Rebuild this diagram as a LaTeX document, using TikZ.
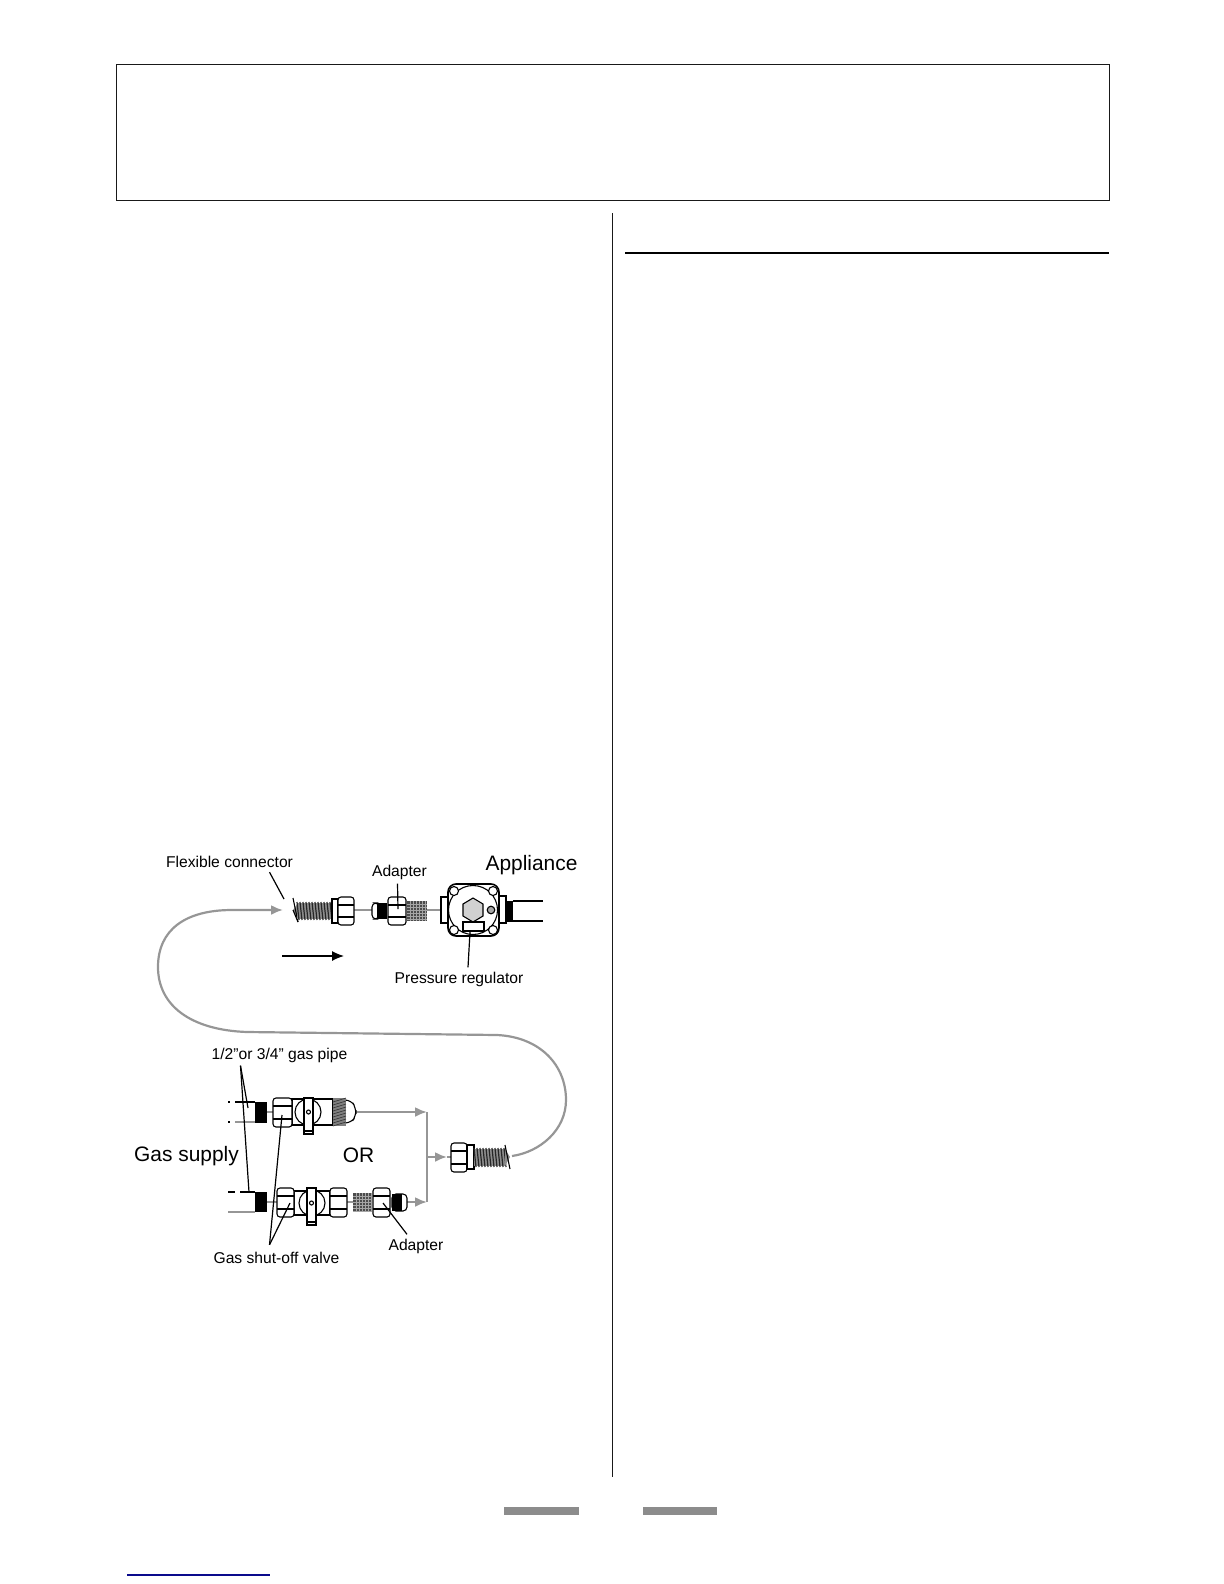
\documentclass[tikz,border=0pt]{standalone}
\usepackage{fontspec}
\usepackage{xcolor}
\usepackage{tikz}
\usetikzlibrary{arrows.meta}
\setmainfont{Liberation Sans}
\definecolor{pipegray}{RGB}{150,150,150}
\definecolor{bargray}{RGB}{140,140,140}
\definecolor{linkblue}{RGB}{10,10,140}
\tikzset{
        smalllabel/.style={inner sep=0pt, font=\fontsize{7.85}{9}\selectfont},
        biglabel/.style={inner sep=0pt, font=\fontsize{10.5}{12}\selectfont},
        leader/.style={black, line width=0.6pt},
        partline/.style={black, line width=0.55pt},
        hose/.style={pipegray, line width=1.1pt},
        hosetip/.style={pipegray, line width=1.1pt, -{Latex[length=6pt,width=5pt]}},
        stub/.style={pipegray, line width=0.7pt},
        pageline/.style={black!90, line width=0.45pt}
}
\newcommand{\drawnut}[4]{
        \draw[partline, fill=white, rounded corners=1.5pt] (#1,#2) rectangle (#3,#4);
        \draw[partline] (#1,#2+8) -- (#3,#2+8);
        \draw[partline] (#1,#4-8) -- (#3,#4-8);
}
\newcommand{\drawcoil}[4]{
        \fill[black!45] (#1,#2) rectangle (#1+#4+2,#3);
        \foreach \t in {0,3,...,#4}
                \draw[black!85, line width=0.6pt] (#1+\t,#2-1) -- (#1+\t+2,#3+1);
}
\newcommand{\drawmesh}[4]{
        \fill[black!70] (#1,#2) rectangle (#3,#4);
        \foreach \t in {3,6,...,18}
                \draw[black!35, line width=0.2pt] (#1+\t,#2) -- (#1+\t,#4);
        \foreach \t in {3,6,...,18}
                \draw[black!35, line width=0.2pt] (#1,#2+\t) -- (#3,#2+\t);
}
\begin{document}
\begin{tikzpicture}[x=0.5bp, y=-0.5bp]
        \useasboundingbox (0,0) rectangle (1224,1584);
        \draw[pageline] (116,64.5) rectangle (1109,200);
        \draw[pageline] (612,213) -- (612,1477);
        \draw[black, line width=1.1pt] (625,253) -- (1109,253);
        \fill[bargray] (504,1507) rectangle (579,1515);
        \fill[bargray] (643,1507) rectangle (717,1515);
        \draw[linkblue, line width=0.6pt] (127,1575) -- (270,1575);

        \node[smalllabel] (flexlabel) at (229.5,862) {Flexible connector};
        \node[smalllabel] (adapterlabel) at (399.5,872) {Adapter};
        \node[biglabel] (appliancelabel) at (531.5,865) {Appliance};
        \node[smalllabel] (regulatorlabel) at (459,979) {Pressure regulator};
        \node[smalllabel] (pipelabel) at (279.5,1055) {1/2”or 3/4” gas pipe};
        \node[biglabel] (supplylabel) at (186.5,1156) {Gas supply};
        \node[biglabel] (orlabel) at (358.5,1155) {OR};
        \node[smalllabel] (adapterlabelb) at (416,1246) {Adapter};
        \node[smalllabel] (valvelabel) at (276.5,1258) {Gas shut-off valve};

        \coordinate (hosetop) at (283,910);
        \coordinate (hosebottom) at (512,1156);
        \coordinate (junctop) at (427,1112);
        \coordinate (juncmid) at (427,1157);
        \coordinate (juncbottom) at (427,1202);
        \draw[hosetip] (hosebottom) .. controls (540,1152) and (566,1130) .. (566,1100) .. controls (566,1065) and (540,1037) .. (497,1035) -- (247,1032) .. controls (190,1030) and (158,1005) .. (158,967) .. controls (158,930) and (185,910) .. (232,910) -- (hosetop);
        \draw[hosetip] (356,1112) -- (junctop);
        \draw[hose] (junctop) -- (juncbottom);
        \draw[hosetip] (407,1202) -- (juncbottom);
        \draw[hosetip] (juncmid) -- (447,1157);
        \draw[hose] (447,1157) -- (451,1157);
        \draw[-{Latex[length=6pt,width=5pt]}, black, line width=0.6pt] (282,956) -- (344,956);

        \draw[stub] (354,910) -- (372,910);
        \draw[stub] (427,910) -- (441,910);
        \fill[black!45] (293,910) -- (298,903) -- (298,920) -- cycle;
        \draw[partline] (293,898) -- (298,922);
        \draw[partline] (293,910) -- (298,922);
        \drawcoil{297}{903}{919}{33}
        \draw[partline, fill=white] (332,899) rectangle (338,923);
        \drawnut{338}{897}{354}{925}

        \draw[partline, fill=white, rounded corners=2pt] (372,903) rectangle (379,919);
        \fill[black] (377,903) rectangle (387,919);
        \drawmesh{407}{901}{427}{921}
        \drawnut{388}{897}{406}{925}

        \draw[partline, fill=white] (441,897) rectangle (448,923);
        \draw[partline, fill=white] (499,896) rectangle (506,923);
        \fill[black] (506,901) rectangle (513,922);
        \draw[partline] (513,901) -- (543,901);
        \draw[partline] (513,921) -- (543,921);
        \draw[black, line width=0.8pt, fill=white, rounded corners=4pt] (448,884) rectangle (499,936);
        \draw[partline] (473,910) circle[radius=24.5];
        \foreach \cx/\cy in {454/891, 493/891, 454/930, 493/930}
                \draw[partline, fill=white] (\cx,\cy) circle[radius=4.5];
        \draw[partline, fill=black!18] (473,898) -- (483,904) -- (483,916) -- (473,922) -- (463,916) -- (463,904) -- cycle;
        \draw[partline, fill=black!35] (491,910) circle[radius=3.8];
        \draw[partline, fill=white] (463,922) rectangle (484,931);

        \draw[partline] (235,1102) -- (255,1102);
        \draw[stub] (235,1122) -- (255,1122);
        \draw[partline] (228,1102) -- (230,1102);
        \draw[partline] (228,1122) -- (230,1122);
        \fill[black] (255,1102) rectangle (267,1123);
        \draw[stub] (267,1112) -- (273,1112);
        \draw[partline, fill=white] (292,1099) rectangle (333,1125);
        \drawnut{273}{1098}{292}{1127}
        \draw[partline] (308,1112) circle[radius=13];
        \draw[partline, fill=white] (304,1098) rectangle (313,1134);
        \draw[partline] (304,1131) -- (313,1131);
        \draw[partline] (308.5,1112) circle[radius=2];
        \draw[partline, fill=white, rounded corners=3pt] (340,1100) -- (351,1100) -- (356,1108) -- (356,1116) -- (351,1123) -- (340,1123);
        \fill[black!50] (333,1098) rectangle (346,1126);
        \foreach \t in {0,3,...,24}
                \draw[black!80, line width=0.3pt] (333,1102+\t) -- (346,1098+\t);

        \draw[partline] (228,1192) -- (235,1192);
        \draw[partline] (240,1192) -- (255,1192);
        \draw[stub] (228,1212) -- (255,1212);
        \fill[black] (255,1192) rectangle (267,1212);
        \draw[stub] (267,1202) -- (277,1202);
        \draw[stub] (347,1202) -- (353,1202);
        \draw[partline, fill=white] (294,1191) rectangle (330,1215);
        \drawnut{277}{1188}{294}{1217}
        \drawnut{330}{1188}{347}{1217}
        \draw[partline] (312,1203) circle[radius=13];
        \draw[partline, fill=white] (307,1188) rectangle (316,1225);
        \draw[partline] (307,1222) -- (316,1222);
        \draw[partline] (311.5,1203) circle[radius=2];
        \drawmesh{353}{1193}{372}{1212}
        \draw[partline, fill=white, rounded corners=2pt] (392,1194) rectangle (407,1211);
        \fill[black] (392,1194) rectangle (402,1211);
        \drawnut{373}{1188}{390}{1217}

        \drawnut{451}{1143}{467}{1172}
        \draw[partline, fill=white] (467,1145) rectangle (474,1169);
        \drawcoil{474}{1149}{1166}{30}
        \fill[black!45] (505,1149) -- (510,1157) -- (505,1166) -- cycle;
        \draw[partline] (505,1145) -- (510,1169);

        \coordinate (flextip) at (284,899);
        \coordinate (adaptertip) at (398,909);
        \coordinate (regulatortip) at (470,932);
        \coordinate (pipetipa) at (248,1108);
        \coordinate (pipetipb) at (249,1192);
        \coordinate (valvetipa) at (282,1115);
        \coordinate (valvetipb) at (290,1203);
        \coordinate (adaptertipb) at (383,1203);
        \draw[leader] ([xshift=20bp,yshift=-2bp]flexlabel.south) -- (flextip);
        \draw[leader] ([xshift=-1bp,yshift=-2bp]adapterlabel.south) -- (adaptertip);
        \draw[leader] ([xshift=4.5bp,yshift=2bp]regulatorlabel.north) -- (regulatortip);
        \draw[leader] ([xshift=-19.5bp,yshift=-1.5bp]pipelabel.south) -- (pipetipa);
        \draw[leader] ([xshift=-19.5bp,yshift=-1.5bp]pipelabel.south) -- (pipetipb);
        \draw[leader] ([xshift=-3.5bp,yshift=3.5bp]valvelabel.north) -- (valvetipa);
        \draw[leader] ([xshift=-3.5bp,yshift=3.5bp]valvelabel.north) -- (valvetipb);
        \draw[leader] ([xshift=-4.5bp,yshift=2bp]adapterlabelb.north) -- (adaptertipb);
\end{tikzpicture}
\end{document}
